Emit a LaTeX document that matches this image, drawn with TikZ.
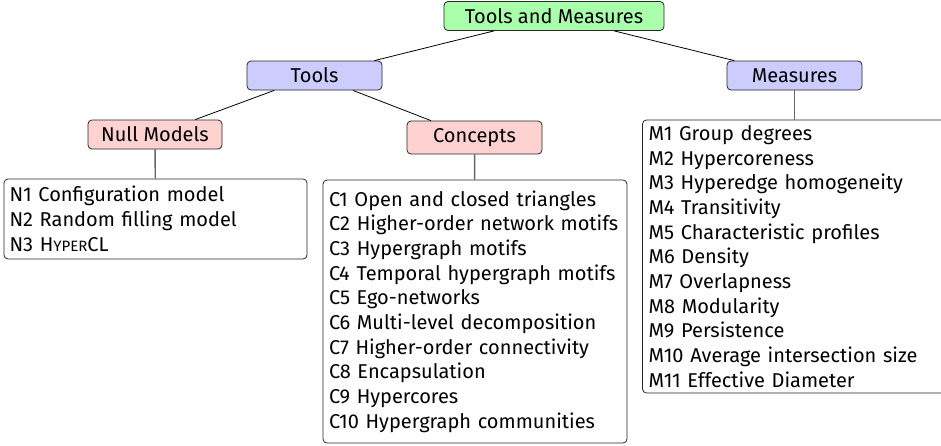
\documentclass[tikz,border=0pt]{standalone}
\usepackage{fontspec}
\setmainfont{Fira Sans}
\definecolor{rootfill}{RGB}{170,255,170}
\definecolor{midfill}{RGB}{204,204,255}
\definecolor{lowfill}{RGB}{255,210,210}
\newcommand{\fakesc}[1]{{\fontsize{15}{15}\selectfont #1}}
\begin{document}
\begin{tikzpicture}[x=1pt,y=-1pt,
  hbox/.style={draw=black!85, rounded corners=4pt, inner sep=0pt, line width=0.8pt,
    font=\fontsize{20}{24}\selectfont},
  listbox/.style={draw=black!85, rounded corners=4pt, inner sep=0pt, line width=0.8pt,
    align=left, text width=#1, font=\fontsize{20}{24.7}\selectfont},
  topedge/.style={draw=black, line width=0.8pt},
  downedge/.style={draw=black!60, line width=1.4pt}]
\useasboundingbox (0,0) rectangle (941,445);
\node[hbox, fill=rootfill, minimum width=220pt, minimum height=29pt] (root) at (554,16) {Tools and Measures};
\node[hbox, fill=midfill, minimum width=135pt, minimum height=29pt] (tools) at (314.5,75.5) {Tools};
\node[hbox, fill=midfill, minimum width=135pt, minimum height=29pt] (meas) at (794.5,75.5) {Measures};
\node[hbox, fill=lowfill, minimum width=134pt, minimum height=29pt] (null) at (155,134.5) {Null Models};
\node[hbox, fill=lowfill, minimum width=135pt, minimum height=33pt] (conc) at (474.5,137.5) {Concepts};
\node[listbox=292pt, minimum width=303pt, minimum height=80pt] (nlist) at (155.5,219)
 {N1 Configuration model\\N2 Random filling model\\N3 H\fakesc{YPER}CL};
\node[listbox=292pt, minimum width=304pt, minimum height=263pt] (clist) at (475,311.5)
 {C1 Open and closed triangles\\C2 Higher-order network motifs\\C3 Hypergraph motifs\\C4 Temporal hypergraph motifs\\C5 Ego-networks\\C6 Multi-level decomposition\\C7 Higher-order connectivity\\C8 Encapsulation\\C9 Hypercores\\C10 Hypergraph communities};
\node[listbox=292pt, minimum width=304pt, minimum height=273pt] (mlist) at (794.5,256.5)
 {M1 Group degrees\\M2 Hypercoreness\\M3 Hyperedge homogeneity\\M4 Transitivity\\M5 Characteristic profiles\\M6 Density\\M7 Overlapness\\M8 Modularity\\M9 Persistence\\M10 Average intersection size\\M11 Effective Diameter};
\draw[topedge] (root) -- (tools);
\draw[topedge] (root) -- (meas);
\draw[topedge] (tools) -- (null);
\draw[topedge] (tools) -- (conc);
\draw[downedge] (null) -- (nlist);
\draw[downedge] (conc) -- (clist);
\draw[downedge] (meas) -- (mlist);
\end{tikzpicture}
\end{document}
